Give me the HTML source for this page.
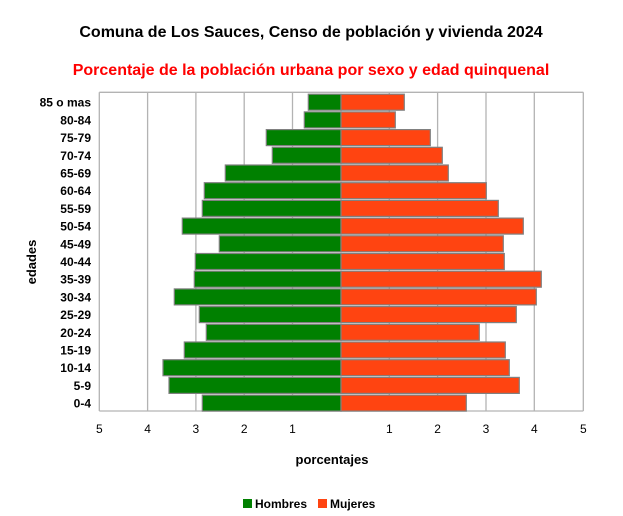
<!DOCTYPE html>
<html><head><meta charset="utf-8"><style>body{margin:0;background:#fff}svg{display:block}</style></head>
<body>
<svg width="623" height="516" xmlns="http://www.w3.org/2000/svg" font-family="Liberation Sans, sans-serif">
<rect width="623" height="516" fill="#fff"/>
<text x="311" y="37" text-anchor="middle" font-size="16" font-weight="bold" fill="#000">Comuna de Los Sauces, Censo de población y vivienda 2024</text>
<text x="311" y="75" text-anchor="middle" font-size="16" font-weight="bold" fill="#ff0000">Porcentaje de la población urbana por sexo y edad quinquenal</text>
<g stroke="#b3b3b3" stroke-width="1.3">
<line x1="99.3" y1="92.3" x2="99.3" y2="411"/><line x1="147.6" y1="92.3" x2="147.6" y2="411"/>
<line x1="195.9" y1="92.3" x2="195.9" y2="411"/><line x1="244.2" y1="92.3" x2="244.2" y2="411"/>
<line x1="292.5" y1="92.3" x2="292.5" y2="411"/><line x1="389.3" y1="92.3" x2="389.3" y2="411"/>
<line x1="437.6" y1="92.3" x2="437.6" y2="411"/><line x1="486" y1="92.3" x2="486" y2="411"/>
<line x1="534.3" y1="92.3" x2="534.3" y2="411"/><line x1="583.3" y1="92.3" x2="583.3" y2="411"/>
<line x1="99.3" y1="92.3" x2="583.3" y2="92.3"/><line x1="99.3" y1="411" x2="583.3" y2="411"/>
</g>
<g id="bars" stroke="#808080" stroke-width="1.2"></g>
<g id="labels" font-size="12" font-weight="bold" text-anchor="end" fill="#000"></g>
<g font-size="12" text-anchor="middle" fill="#000">
<text x="99.3" y="433">5</text><text x="147.6" y="433">4</text><text x="195.9" y="433">3</text><text x="244.2" y="433">2</text><text x="292.5" y="433">1</text>
<text x="389.3" y="433">1</text><text x="437.6" y="433">2</text><text x="486" y="433">3</text><text x="534.3" y="433">4</text><text x="583.3" y="433">5</text>
</g>
<text x="332" y="464" text-anchor="middle" font-size="13" font-weight="bold">porcentajes</text>
<text transform="translate(36,262) rotate(-90)" text-anchor="middle" font-size="13" font-weight="bold">edades</text>
<rect x="243" y="499" width="9" height="9" fill="#008000"/>
<text x="255" y="508" font-size="12" font-weight="bold">Hombres</text>
<rect x="318" y="499" width="9" height="9" fill="#ff4411"/>
<text x="330" y="508" font-size="12" font-weight="bold">Mujeres</text>
<script>
var L=[308.3,304.3,266.3,272.3,225.3,204.3,202.3,182.3,219.3,195.3,194.3,174.3,199.3,206.3,184.3,163,169,202.3];
var R=[404.3,395.3,430.3,442.3,448.3,486.3,498.3,523.3,503.3,504.3,541.3,536.3,516.3,479.3,505.3,509.3,519.3,466.3];
var N=["85 o mas","80-84","75-79","70-74","65-69","60-64","55-59","50-54","45-49","40-44","35-39","30-34","25-29","20-24","15-19","10-14","5-9","0-4"];
var b=document.getElementById('bars'),l=document.getElementById('labels'),ns="http://www.w3.org/2000/svg",c=341;
for(var i=0;i<18;i++){var y=94.2+i*17.7;
var r=document.createElementNS(ns,'rect');r.setAttribute('x',L[i]);r.setAttribute('y',y);r.setAttribute('width',c-L[i]);r.setAttribute('height',16);r.setAttribute('fill','#008000');b.appendChild(r);
r=document.createElementNS(ns,'rect');r.setAttribute('x',c);r.setAttribute('y',y);r.setAttribute('width',R[i]-c);r.setAttribute('height',16);r.setAttribute('fill','#ff4411');b.appendChild(r);
var t=document.createElementNS(ns,'text');t.setAttribute('x',91);t.setAttribute('y',y+12.5);t.textContent=N[i];l.appendChild(t);}
</script>
</svg>
</body></html>
